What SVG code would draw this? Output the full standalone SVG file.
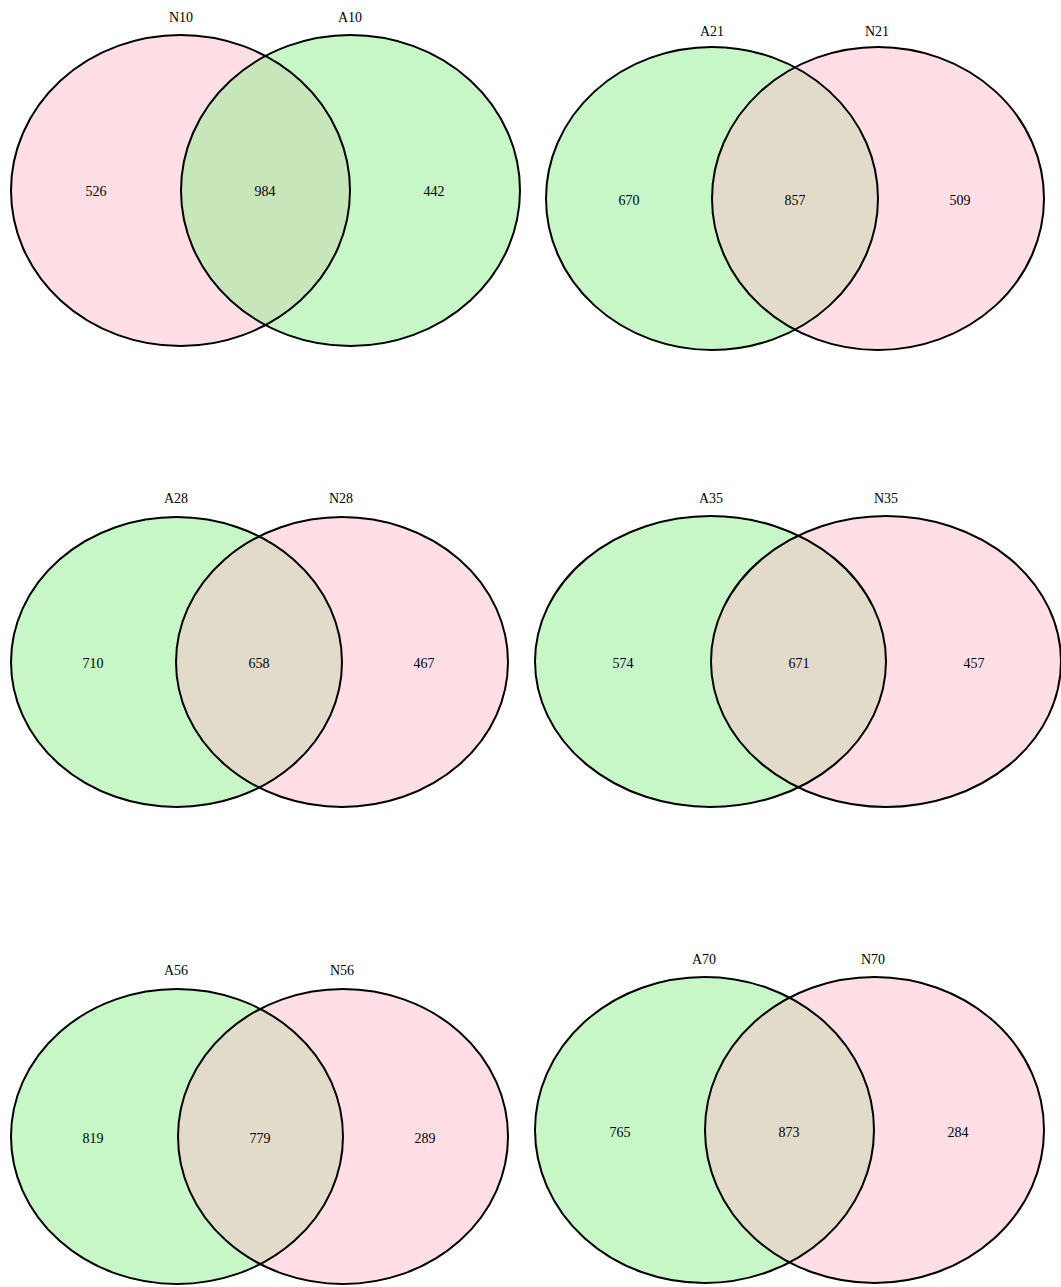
<svg xmlns="http://www.w3.org/2000/svg" width="1061" height="1287" viewBox="0 0 1061 1287">
<style>
.bg{fill:#ffffff}
.pk{fill:#FFC0CB;fill-opacity:0.5;stroke:none}
.gr{fill:#90EE90;fill-opacity:0.5;stroke:none}
.ol{fill:none;stroke:#000000;stroke-width:2}
text{font-family:"Liberation Serif","Times New Roman",serif;font-size:14px;fill:#000000;text-anchor:middle}
</style>
<rect class="bg" x="0" y="0" width="1061" height="1287"/>
<g id="venn-N10-A10">
<ellipse class="pk" cx="180.5" cy="190.5" rx="169.5" ry="155.5"/>
<ellipse class="gr" cx="350.5" cy="190.5" rx="169.5" ry="155.5"/>
<ellipse class="ol" cx="180.5" cy="190.5" rx="169.5" ry="155.5"/>
<ellipse class="ol" cx="350.5" cy="190.5" rx="169.5" ry="155.5"/>
<text x="181" y="22">N10</text>
<text x="350" y="22">A10</text>
<text x="96" y="196">526</text>
<text x="265" y="196">984</text>
<text x="434" y="196">442</text>
</g>
<g id="venn-A21-N21">
<ellipse class="gr" cx="712" cy="198.5" rx="166" ry="151.5"/>
<ellipse class="pk" cx="878" cy="198.5" rx="166" ry="151.5"/>
<ellipse class="ol" cx="712" cy="198.5" rx="166" ry="151.5"/>
<ellipse class="ol" cx="878" cy="198.5" rx="166" ry="151.5"/>
<text x="712" y="36">A21</text>
<text x="877" y="36">N21</text>
<text x="629" y="205">670</text>
<text x="795" y="205">857</text>
<text x="960" y="205">509</text>
</g>
<g id="venn-A28-N28">
<ellipse class="gr" cx="176.5" cy="662" rx="165.5" ry="145"/>
<ellipse class="pk" cx="342" cy="662" rx="166" ry="145"/>
<ellipse class="ol" cx="176.5" cy="662" rx="165.5" ry="145"/>
<ellipse class="ol" cx="342" cy="662" rx="166" ry="145"/>
<text x="176" y="503">A28</text>
<text x="341" y="503">N28</text>
<text x="93" y="668">710</text>
<text x="259" y="668">658</text>
<text x="424" y="668">467</text>
</g>
<g id="venn-A35-N35">
<ellipse class="gr" cx="710.5" cy="661.5" rx="175.5" ry="145.5"/>
<ellipse class="pk" cx="886" cy="661.5" rx="175" ry="145.5"/>
<ellipse class="ol" cx="710.5" cy="661.5" rx="175.5" ry="145.5"/>
<ellipse class="ol" cx="886" cy="661.5" rx="175" ry="145.5"/>
<text x="711" y="503">A35</text>
<text x="886" y="503">N35</text>
<text x="623" y="668">574</text>
<text x="799" y="668">671</text>
<text x="974" y="668">457</text>
</g>
<g id="venn-A56-N56">
<ellipse class="gr" cx="177" cy="1136.5" rx="166" ry="147.5"/>
<ellipse class="pk" cx="343" cy="1136.5" rx="165" ry="147.5"/>
<ellipse class="ol" cx="177" cy="1136.5" rx="166" ry="147.5"/>
<ellipse class="ol" cx="343" cy="1136.5" rx="165" ry="147.5"/>
<text x="176" y="975">A56</text>
<text x="342" y="975">N56</text>
<text x="93" y="1143">819</text>
<text x="260" y="1143">779</text>
<text x="425" y="1143">289</text>
</g>
<g id="venn-A70-N70">
<ellipse class="gr" cx="704.5" cy="1130" rx="169.5" ry="153"/>
<ellipse class="pk" cx="874.5" cy="1130" rx="169.5" ry="153"/>
<ellipse class="ol" cx="704.5" cy="1130" rx="169.5" ry="153"/>
<ellipse class="ol" cx="874.5" cy="1130" rx="169.5" ry="153"/>
<text x="704" y="964">A70</text>
<text x="873" y="964">N70</text>
<text x="620" y="1137">765</text>
<text x="789" y="1137">873</text>
<text x="958" y="1137">284</text>
</g>
<g id="connectors"></g>
</svg>
